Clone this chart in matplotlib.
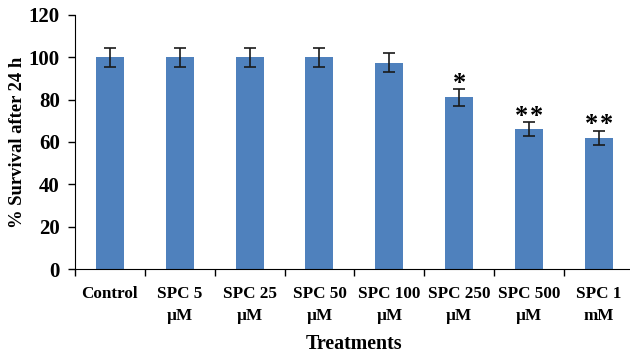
import matplotlib
matplotlib.use("Agg")
import matplotlib.pyplot as plt
import numpy as np

categories = ["Control", "SPC 5\nµM", "SPC 25\nµM", "SPC 50\nµM", "SPC 100\nµM",
              "SPC 250\nµM", "SPC 500\nµM", "SPC 1\nmM"]
values = [100, 100, 100, 100, 97.5, 81, 66, 62]
errors = [4.5, 4.5, 4.5, 4.5, 4.6, 3.8, 3.4, 3.3]
stars = ["", "", "", "", "", "*", "**", "**"]
yticks = [0, 20, 40, 60, 80, 100, 120]

plt.rcParams['font.family'] = ['Liberation Serif', 'DejaVu Serif']
plt.rcParams['font.weight'] = 'bold'

fig = plt.figure(figsize=(6.3, 3.54), dpi=100)
ax = fig.add_axes([0.119, 0.240, 0.887, 0.718])

x = np.arange(len(categories))
ax.bar(x, values, width=0.4, color="#4F81BD", zorder=2)
ax.errorbar(x, values, yerr=errors, fmt='none', ecolor='#1a1a1a', elinewidth=1.2,
            capsize=4, capthick=1.2, zorder=3)
spacing = 10.5  # points between star centres
for xi, v, e, s in zip(x, values, errors, stars):
    n = len(s)
    for k, ch in enumerate(s):
        dx = (k - (n - 1) / 2) * spacing
        ax.annotate(ch, xy=(xi, v + e), xytext=(dx, -0.5), textcoords='offset points',
                    ha='center', va='baseline', fontsize=19, fontweight='bold')

ax.set_xlim(-0.5, len(categories) - 0.5)
ax.set_ylim(0, 120)
ax.set_yticks(yticks)
ax.set_xticks(x)
ax.set_xticklabels(categories, fontsize=12.3, fontweight='bold', linespacing=1.45)
ax.set_xticks(np.arange(-0.5, len(categories) - 0.4, 1), minor=True)
ax.tick_params(axis='x', which='major', length=0, pad=12.5)
ax.tick_params(axis='x', which='minor', length=5, width=1, direction='out')
ax.tick_params(axis='y', which='major', length=5, width=1, direction='out',
               labelsize=15, pad=6)
for lab in ax.get_yticklabels():
    lab.set_fontweight('bold')
ax.spines['top'].set_visible(False)
ax.spines['right'].set_visible(False)
ax.set_ylabel("% Survival after 24 h", fontsize=13.4, fontweight='bold', labelpad=2)
ax.set_xlabel("Treatments", fontsize=14.4, fontweight='bold', labelpad=7)

fig.savefig("out.png", dpi=100)
